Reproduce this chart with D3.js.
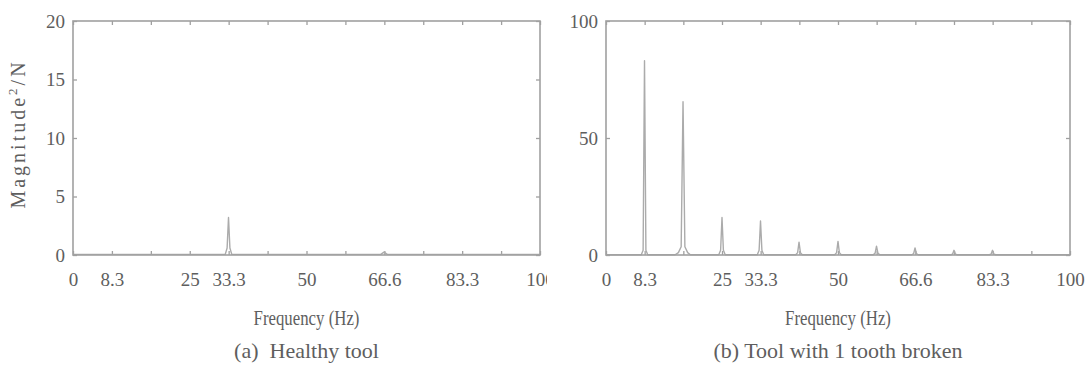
<!DOCTYPE html>
<html><head><meta charset="utf-8">
<script src="https://cdn.jsdelivr.net/npm/d3@7"></script>
<style>
html,body{margin:0;padding:0;background:#fff;}
svg{display:block;font-family:"Liberation Serif","Times New Roman","DejaVu Serif",serif;}
</style></head>
<body><svg id="c" width="1090" height="370"></svg>
<script>
// ---- data ----
const xTickValues = [0, 8.33, 16.67, 25, 33.33, 41.67, 50, 58.33, 66.67, 75, 83.33, 91.67, 100];
const xTickLabels = ["0", "8.3", "", "25", "33.3", "", "50", "", "66.6", "", "83.3", "", "100"];
const yTicksA = [0, 5, 10, 15, 20];
const yTicksB = [0, 50, 100];

// (a) healthy tool spectrum
const freqA = [0, 32.6, 33.0, 33.3, 33.6, 34.0, 65.9, 66.6, 67.3, 100];
const magA  = [0.05, 0.05, 0.6, 3.2, 0.6, 0.05, 0.05, 0.25, 0.05, 0.05];

// (b) tool with 1 tooth broken spectrum
const freqB = [0, 7.6, 8.0, 8.3, 8.6, 9.0,
  14.9, 15.6, 16.2, 16.6, 17.0, 17.6, 18.2,
  24.3, 24.7, 25.0, 25.3, 25.7,
  32.6, 33.0, 33.3, 33.6, 34.0,
  40.9, 41.3, 41.6, 41.9, 42.3,
  49.3, 49.7, 50.0, 50.3, 50.7,
  57.6, 58.0, 58.3, 58.6, 59.0,
  65.9, 66.3, 66.6, 66.9, 67.3,
  74.3, 74.7, 75.0, 75.3, 75.7,
  82.6, 83.0, 83.3, 83.6, 84.0, 100];
const magB = [0.1, 0.1, 2.0, 83, 2.0, 0.1,
  0.1, 1.0, 3.5, 65.5, 3.5, 1.0, 0.1,
  0.1, 2.0, 16, 2.0, 0.1,
  0.1, 2.0, 14.5, 2.0, 0.1,
  0.1, 1.0, 5.5, 1.0, 0.1,
  0.1, 1.0, 5.8, 1.0, 0.1,
  0.1, 0.8, 3.8, 0.8, 0.1,
  0.1, 0.6, 3.0, 0.6, 0.1,
  0.1, 0.4, 2.0, 0.4, 0.1,
  0.1, 0.4, 2.0, 0.4, 0.1, 0.1];

// ---- drawing ----
const svg = d3.select("#c");
const FONT = '"Liberation Serif","Times New Roman","DejaVu Serif",serif';
const TEXT = "#5e5e5e", AXIS = "#a0a0a0", LINE = "#ababab";

function panel(opt) {
  const g = svg.append("g");
  if (opt.cover) g.append("rect").attr("x", opt.cover).attr("y", 0).attr("width", 1090 - opt.cover).attr("height", 370).attr("fill", "#fff");
  const x = d3.scaleLinear().domain([0, 100]).range([opt.x0, opt.x1]);
  const y = d3.scaleLinear().domain([0, opt.ymax]).range([opt.y1, opt.y0]);
  const tl = 4;
  const style = s => s.attr("font-family", FONT)
    .call(a => a.select(".domain").remove())
    .call(a => a.selectAll("line").attr("stroke", AXIS).attr("stroke-width", 1.3))
    .call(a => a.selectAll("text").attr("fill", TEXT).attr("font-size", 19).attr("font-family", FONT));

  // bottom axis (inward ticks)
  g.append("g").attr("transform", `translate(0,${opt.y1})`)
    .call(d3.axisBottom(x).tickValues(xTickValues).tickSizeInner(-tl).tickSizeOuter(0).tickPadding(18)
      .tickFormat((d, i) => xTickLabels[i]))
    .call(style);
  // top axis
  g.append("g").attr("transform", `translate(0,${opt.y0})`)
    .call(d3.axisTop(x).tickValues(xTickValues).tickSizeInner(-tl).tickSizeOuter(0).tickFormat(""))
    .call(style);
  // left axis
  g.append("g").attr("transform", `translate(${opt.x0},0)`)
    .call(d3.axisLeft(y).tickValues(opt.yticks).tickSizeInner(-tl).tickSizeOuter(0).tickPadding(8))
    .call(style);
  // right axis
  g.append("g").attr("transform", `translate(${opt.x1},0)`)
    .call(d3.axisRight(y).tickValues(opt.yticks).tickSizeInner(-tl).tickSizeOuter(0).tickFormat(""))
    .call(style);

  // spectrum
  const pts = opt.freq.map((f, i) => [f, opt.mag[i]]);
  g.append("path").datum(pts)
    .attr("fill", "none").attr("stroke", LINE).attr("stroke-width", 1.4).attr("stroke-linejoin", "round")
    .attr("d", d3.line().x(d => x(d[0])).y(d => y(d[1])));

  // frame
  g.append("rect").attr("x", opt.x0).attr("y", opt.y0).attr("width", opt.x1 - opt.x0).attr("height", opt.y1 - opt.y0)
    .attr("fill", "none").attr("stroke", AXIS).attr("stroke-width", 1.6);

  const cx = (opt.x0 + opt.x1) / 2;
  // x title (condensed like the original)
  g.append("text").attr("transform", `translate(${cx},${opt.y1 + 70}) scale(0.82,1)`).attr("text-anchor", "middle")
    .attr("fill", TEXT).attr("font-size", 20.5).attr("font-family", FONT).text("Frequency (Hz)");
  // caption
  g.append("text").attr("x", cx).attr("y", opt.y1 + 103).attr("text-anchor", "middle")
    .attr("fill", TEXT).attr("font-size", 22).attr("font-family", FONT).attr("xml:space", "preserve").text(opt.caption);

  if (opt.ylabel) {
    const t = g.append("text").attr("transform", `translate(${opt.x0 - 48},${(opt.y0 + opt.y1) / 2 - 4}) rotate(-90)`)
      .attr("text-anchor", "middle").attr("fill", TEXT).attr("font-size", 20).attr("font-family", FONT).attr("letter-spacing", 3);
    t.append("tspan").text("Magnitude");
    t.append("tspan").attr("dy", -8).attr("font-size", 13).text("2");
    t.append("tspan").attr("dy", 8).text("/N");
  }
}

panel({x0: 73, x1: 540, y0: 21, y1: 255, ymax: 20, yticks: yTicksA, freq: freqA, mag: magA,
  caption: "(a)  Healthy tool", ylabel: true});
panel({x0: 606, x1: 1070, y0: 21, y1: 255, ymax: 100, yticks: yTicksB, freq: freqB, mag: magB,
  caption: "(b) Tool with 1 tooth broken", ylabel: false, cover: 547});
</script>
</body></html>
